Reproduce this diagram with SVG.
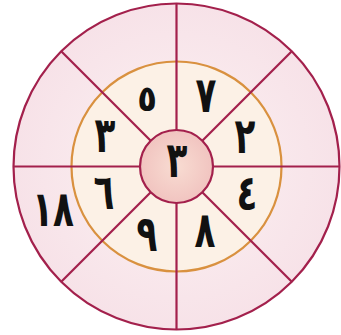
<svg xmlns="http://www.w3.org/2000/svg" width="341" height="335" viewBox="0 0 341 335">
<defs>
<radialGradient id="outerG" cx="0.5" cy="0.5" r="0.5">
<stop offset="0" stop-color="#fcf2f3"/>
<stop offset="1" stop-color="#f7e2e8"/>
</radialGradient>
<radialGradient id="centerG" cx="0.5" cy="0.5" r="0.5">
<stop offset="0" stop-color="#f8dcd2"/>
<stop offset="1" stop-color="#f1c4c0"/>
</radialGradient>
</defs>
<style>
.ln{stroke:#a3204c;stroke-width:2.2;fill:none}
.d{font-family:"DejaVu Sans",sans-serif;font-weight:bold;font-size:38px;fill:#111;text-anchor:middle}
</style>
<rect width="341" height="335" fill="#ffffff"/>
<g id="outer"><circle cx="176.5" cy="166.5" r="163" class="ln" style="fill:url(#outerG)"/></g>
<g id="ring"><circle cx="176.5" cy="166.5" r="105" fill="#fcf1e6" stroke="#d9913f" stroke-width="2.2"/></g>
<g id="connectors">
<line class="ln" x1="176.5" y1="3.5" x2="176.5" y2="130"/>
<line class="ln" x1="176.5" y1="203" x2="176.5" y2="329.5"/>
<line class="ln" x1="13.5" y1="166.5" x2="140" y2="166.5"/>
<line class="ln" x1="213" y1="166.5" x2="339.5" y2="166.5"/>
<line class="ln" x1="61.2" y1="51.2" x2="150.7" y2="140.7"/>
<line class="ln" x1="291.8" y1="51.2" x2="202.3" y2="140.7"/>
<line class="ln" x1="61.2" y1="281.8" x2="150.7" y2="192.3"/>
<line class="ln" x1="291.8" y1="281.8" x2="202.3" y2="192.3"/>
</g>
<g id="center"><circle cx="176.5" cy="166.5" r="36.5" class="ln" style="fill:url(#centerG)"/>
<text class="d" transform="translate(177,177) scale(0.9,1.3)">٣</text></g>
<g id="n5"><text class="d" transform="translate(147,111) scale(0.85,0.95)">٥</text></g>
<g id="n7"><text class="d" transform="translate(206,112) scale(0.9,1.3)">٧</text></g>
<g id="n3"><text class="d" transform="translate(105,152) scale(0.9,1.3)">٣</text></g>
<g id="n2"><text class="d" transform="translate(245,153) scale(0.9,1.3)">٢</text></g>
<g id="n6"><text class="d" transform="translate(104,209) scale(0.9,1.3)">٦</text></g>
<g id="n4"><text class="d" transform="translate(247,210) scale(0.9,1.3)">٤</text></g>
<g id="n9"><text class="d" transform="translate(147,251) scale(0.9,1.3)">٩</text></g>
<g id="n8"><text class="d" transform="translate(205,247) scale(0.9,1.3)">٨</text></g>
<g id="n18"><text class="d" transform="translate(53,226) scale(0.9,1.3)">١٨</text></g>
</svg>
